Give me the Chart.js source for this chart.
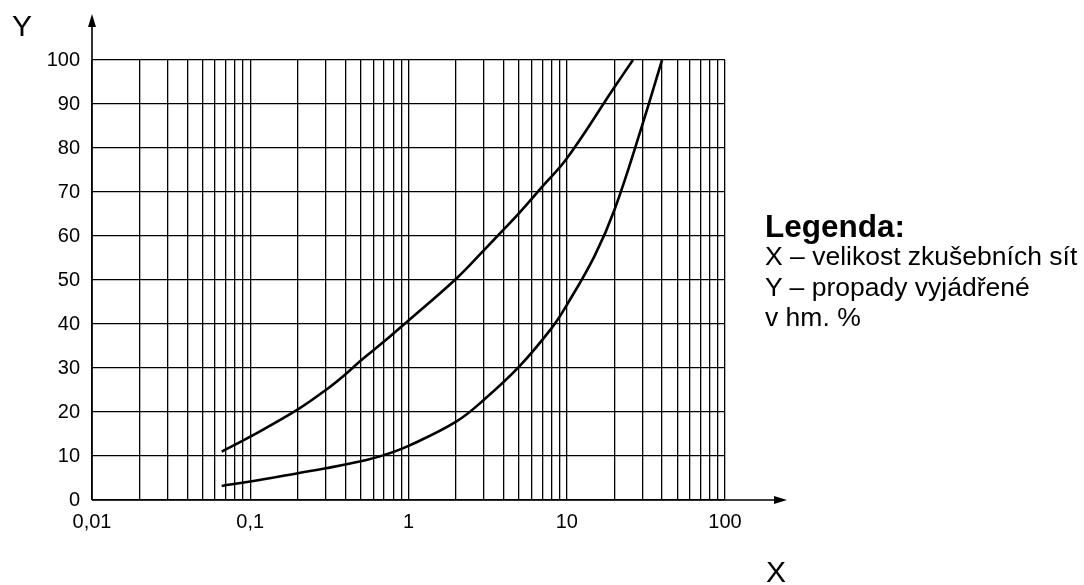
<!DOCTYPE html>
<html>
<head>
<meta charset="utf-8">
<script src="https://cdn.jsdelivr.net/npm/chart.js@4/dist/chart.umd.min.js"></script>
<style>
  html, body { margin: 0; padding: 0; background: #fff; }
  #wrap { position: relative; width: 1084px; height: 585px; font-family: "Liberation Sans", Arial, sans-serif; color: #000; }
  #chart { position: absolute; left: 0; top: 0; }
  .lbl { position: absolute; white-space: nowrap; }
  #ylab { left: 12px; top: 9px; font-size: 30px; }
  #xlab { left: 766px; top: 555px; font-size: 30px; }
  #legend { left: 765px; top: 211px; font-size: 26.5px; line-height: 30.5px; }
  #legend b { font-size: 31.5px; line-height: 30px; display: block; }
</style>
</head>
<body>
<div id="wrap">
  <canvas id="chart" width="1084" height="585"></canvas>
  <div class="lbl" id="ylab">Y</div>
  <div class="lbl" id="xlab">X</div>
  <div class="lbl" id="legend"><b>Legenda:</b>X – velikost zkušebních sít<br>Y – propady vyjádřené<br>v hm. %</div>
</div>
<script>
  // hodnoty
  const upperX = [0.066, 0.1, 0.2, 0.3, 0.4, 0.5, 0.7, 1, 2, 3, 4, 5, 7, 10, 20, 26.2];
  const upperY = [11, 14.4, 20.6, 25, 28.6, 31.7, 36, 40.8, 50.3, 56.8, 61.5, 65.2, 71.2, 77.6, 93.8, 100];
  const lowerX = [0.066, 0.1, 0.2, 0.3, 0.5, 0.7, 1, 2, 3, 5, 8, 10, 15, 20, 30, 40];
  const lowerY = [3.2, 4.2, 6.1, 7.2, 8.8, 10.2, 12.3, 17.8, 22.8, 30.3, 39, 44.3, 55.5, 65.9, 85.2, 100];

  // popisky os
  const xTickValues = [0.01, 0.1, 1, 10, 100];
  const xTickLabels = ['0,01', '0,1', '1', '10', '100'];
  const yTickLabels = ['0', '10', '20', '30', '40', '50', '60', '70', '80', '90', '100'];

  // logaritmická mřížka: 1..9 v každé dekádě
  const gridSteps = [1, 2, 3, 4, 5, 6, 7, 8, 9];
  const xGrid = [];
  xTickValues.slice(0, -1).forEach(d => gridSteps.forEach(s => xGrid.push(+(d * s).toPrecision(6))));
  xGrid.push(100);

  const toPoints = (xs, ys) => xs.map((x, i) => ({ x: x, y: ys[i] }));

  // osy se šipkami
  const arrowAxes = {
    id: 'arrowAxes',
    afterDraw(chart) {
      const ctx = chart.ctx;
      const a = chart.chartArea;
      const x0 = chart.scales.x.getPixelForValue(0.01);
      const y0 = chart.scales.y.getPixelForValue(0);
      const xEnd = a.right + 62;
      const yEnd = a.top - 46;
      ctx.save();
      ctx.strokeStyle = '#000';
      ctx.fillStyle = '#000';
      ctx.lineWidth = 1.6;
      ctx.beginPath();
      ctx.moveTo(x0, y0);
      ctx.lineTo(xEnd - 10, y0);
      ctx.moveTo(x0, y0);
      ctx.lineTo(x0, yEnd + 10);
      ctx.stroke();
      ctx.beginPath();
      ctx.moveTo(xEnd, y0);
      ctx.lineTo(xEnd - 13, y0 - 4);
      ctx.lineTo(xEnd - 13, y0 + 4);
      ctx.closePath();
      ctx.fill();
      ctx.beginPath();
      ctx.moveTo(x0, yEnd);
      ctx.lineTo(x0 - 4, yEnd + 13);
      ctx.lineTo(x0 + 4, yEnd + 13);
      ctx.closePath();
      ctx.fill();
      ctx.restore();
    }
  };

  const lineStyle = {
    borderColor: '#000',
    borderWidth: 2.6,
    pointRadius: 0,
    fill: false,
    tension: 0.4,
  };

  new Chart(document.getElementById('chart').getContext('2d'), {
    type: 'line',
    data: {
      datasets: [
        Object.assign({ label: 'horní', data: toPoints(upperX, upperY) }, lineStyle),
        Object.assign({ label: 'dolní', data: toPoints(lowerX, lowerY) }, lineStyle),
      ],
    },
    options: {
      responsive: false,
      animation: false,
      layout: { padding: { top: 60, right: 359, left: 0, bottom: 0 } },
      plugins: { legend: { display: false }, tooltip: { enabled: false } },
      scales: {
        x: {
          type: 'logarithmic',
          min: 0.01,
          max: 100,
          afterBuildTicks: scale => { scale.ticks = xGrid.map(v => ({ value: v })); },
          afterFit: scale => { scale.height = 85; },
          ticks: {
            autoSkip: false,
            maxRotation: 0,
            padding: 10,
            color: '#000',
            font: { family: 'Liberation Sans', size: 20 },
            callback: v => {
              const i = xTickValues.findIndex(t => Math.abs(Math.log10(t) - Math.log10(v)) < 1e-6);
              return i >= 0 ? xTickLabels[i] : '';
            },
          },
          grid: { color: '#000', lineWidth: 1.3, drawTicks: false },
          border: { display: false },
        },
        y: {
          type: 'linear',
          min: 0,
          max: 100,
          afterFit: scale => { scale.width = 92; },
          ticks: {
            stepSize: 10,
            padding: 12,
            color: '#000',
            font: { family: 'Liberation Sans', size: 20 },
            callback: (v, i) => yTickLabels[i],
          },
          grid: { color: '#000', lineWidth: 1.3, drawTicks: false },
          border: { display: false },
        },
      },
    },
    plugins: [arrowAxes],
  });
</script>
</body>
</html>
